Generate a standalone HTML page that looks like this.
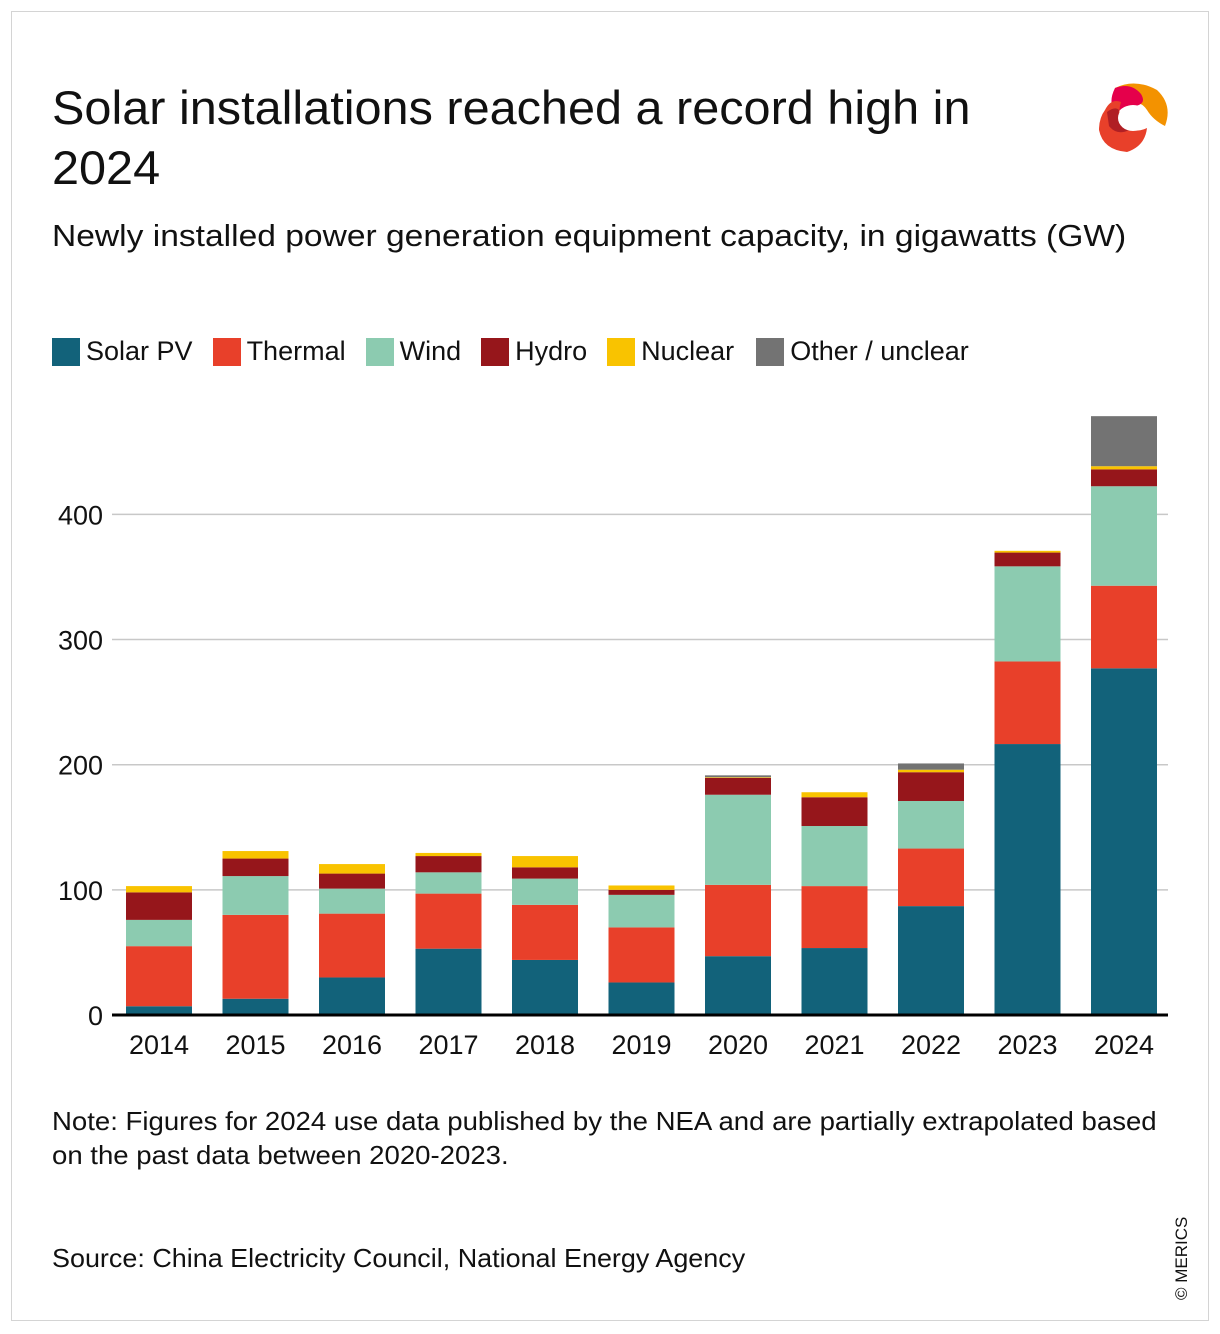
<!DOCTYPE html>
<html><head><meta charset="utf-8">
<style>
body{margin:0;background:#fff;font-family:"Liberation Sans",sans-serif;color:#111;}
#card{position:absolute;left:11px;top:11px;width:1196px;height:1308px;border:1px solid #d4d4d4;}
.t{position:absolute;white-space:nowrap;transform-origin:0 0;}
</style></head><body>
<div id="card"></div>
<div class="t" style="left:52px;top:78px;font-size:47px;line-height:60px;transform:scaleX(1.034);">Solar installations reached a record high in<br>2024</div>
<div class="t" style="left:52px;top:218px;font-size:31px;transform:scaleX(1.083);">Newly installed power generation equipment capacity, in gigawatts (GW)</div>
<svg style="position:absolute;left:1095px;top:80px" width="75" height="75" viewBox="0 0 75 75">
<path d="M20 8 Q40 -2 62 10 Q78 25 70 46 Q58 40 52 30 Q44 18 30 26 Q24 28 20 8Z" fill="#f39200"/>
<path d="M20 8 Q36 2 46 14 Q52 24 40 26 Q28 24 22 34 Q12 24 20 8Z" fill="#e5004b"/>
<path d="M10 30 Q16 18 26 22 Q22 34 28 46 Q40 54 52 48 Q50 66 32 72 Q8 70 4 50 Q4 38 10 30Z" fill="#e8402a"/>
<path d="M12 32 Q20 26 24 30 Q22 44 34 50 Q22 56 14 46 Z" fill="#b01f24"/>
<ellipse cx="38" cy="38" rx="15" ry="13" fill="#fff"/>
</svg>
<div id="legend" class="t" style="left:52px;top:336px;font-size:27px;"></div>
<svg id="chart" style="position:absolute;left:0;top:0" width="1220" height="1334"></svg>
<div class="t" style="left:52px;top:1104px;font-size:26px;line-height:34px;transform:scaleX(1.06);">Note: Figures for 2024 use data published by the NEA and are partially extrapolated based<br>on the past data between 2020-2023.</div>
<div class="t" style="left:52px;top:1243px;font-size:26px;transform:scaleX(1.036);">Source: China Electricity Council, National Energy Agency</div>
<div class="t" style="left:1172px;top:1300px;font-size:17px;transform:rotate(-90deg);">© MERICS</div>
<script>
const years=["2014","2015","2016","2017","2018","2019","2020","2021","2022","2023","2024"];
const seriesNames=["Solar PV","Thermal","Wind","Hydro","Nuclear","Other / unclear"];
const solar=[7,13,30,53,44,26,47,53.5,87,216.5,277];
const thermal=[48,67,51,44,44,44,57,49.5,46,66,66];
const wind=[21,31,20,17,21,26,72,48,38,76,79.5];
const hydro=[22,14,12,13,9,4,13.5,23,23,11,13.5];
const nuclear=[5,6,7.6,2.5,9,3.5,0.5,4,2,1.4,2.5];
const other=[0,0,0,0,0,0,1.5,0,5,0,40];
const yTicks=[0,100,200,300,400];
const colors=["#12627a","#e8402a","#8ccbb0","#96161b","#f9c300","#737373"];
const series=[solar,thermal,wind,hydro,nuclear,other];
const ns="http://www.w3.org/2000/svg";
const svg=document.getElementById("chart");
const y0=1015,ppu=1.2515;
const y=v=>y0-v*ppu;
const x=i=>126+i*96.5;
const bw=66;
function mk(t,a){const e=document.createElementNS(ns,t);for(const k in a)e.setAttribute(k,a[k]);svg.appendChild(e);return e;}
yTicks.forEach(v=>{
 if(v>0){const l=mk("line",{x1:112,x2:1168,y1:y(v),y2:y(v),stroke:"#c8c8c8","stroke-width":1.5});
 
 }
 const t=mk("text",{x:103,y:y(v)+10,"text-anchor":"end","font-size":27,"font-family":"Liberation Sans, sans-serif",fill:"#111"});
 t.textContent=v;
 
 
});
years.forEach((yr,i)=>{
 let c=0;
 series.forEach((s,k)=>{
  if(s[i]>0){const r=mk("rect",{x:x(i),y:y(c+s[i]),width:bw,height:s[i]*ppu,fill:colors[k]});
  
  }
  c+=s[i];
 });
 const t=mk("text",{x:x(i)+bw/2,y:1054,"text-anchor":"middle","font-size":27,"font-family":"Liberation Sans, sans-serif",fill:"#111"});
 t.textContent=yr;
 
 
});
const ax=mk("line",{x1:112,x2:1168,y1:y0,y2:y0,stroke:"#000","stroke-width":3});


const lg=document.getElementById("legend");
seriesNames.forEach((n,k)=>{
 const s=document.createElement("span");
 
 
 s.style.cssText="display:inline-block;margin-right:"+(k==4?22:20)+"px";
 s.innerHTML='<span style="display:inline-block;width:28px;height:28px;background:'+colors[k]+';vertical-align:-6px;margin-right:6px"></span>'+n;
 lg.appendChild(s);
});
</script>
</body></html>
